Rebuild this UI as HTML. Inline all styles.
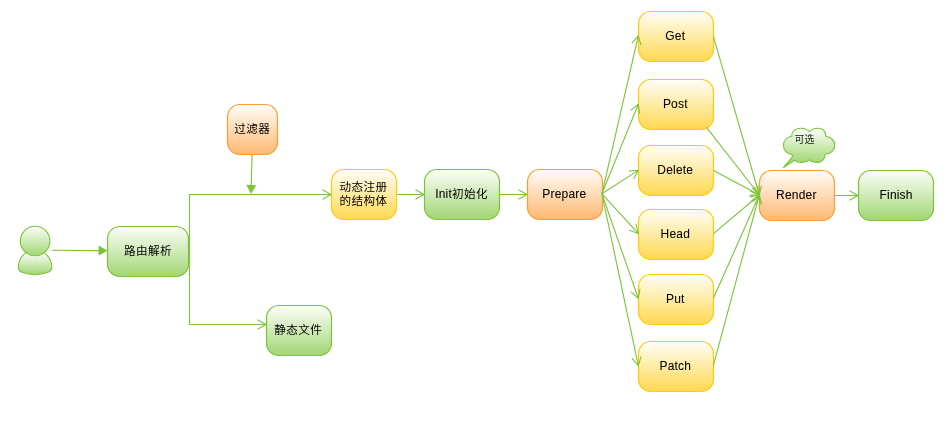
<!DOCTYPE html>
<html lang="zh">
<head>
<meta charset="utf-8">
<title>流程图</title>
<style>
html,body{margin:0;padding:0;background:#fff;}
body{width:951px;height:448px;overflow:hidden;}
svg{display:block;will-change:transform;}
text{font-family:"Liberation Sans","Noto Sans CJK SC",sans-serif;font-size:12px;fill:#000;text-anchor:middle;letter-spacing:0.2px;stroke:#000;stroke-width:0.06px;}
.c{font-size:11.6px;letter-spacing:0.4px;stroke:none;}
</style>
</head>
<body>
<svg width="951" height="448" viewBox="0 0 951 448">
<defs>
<linearGradient id="gg" x1="0" y1="0" x2="0" y2="1"><stop offset="0" stop-color="#fcfefb"/><stop offset="1" stop-color="#a1d673"/></linearGradient>
<linearGradient id="go" x1="0" y1="0" x2="0" y2="1"><stop offset="0" stop-color="#fffdfa"/><stop offset="1" stop-color="#ffb870"/></linearGradient>
<linearGradient id="gc" gradientUnits="userSpaceOnUse" x1="0" y1="128" x2="0" y2="163"><stop offset="0" stop-color="#fcfefb"/><stop offset="1" stop-color="#a1d673"/></linearGradient>
<linearGradient id="gy" x1="0" y1="0" x2="0" y2="1"><stop offset="0" stop-color="#fffef8"/><stop offset="1" stop-color="#ffd850"/></linearGradient>
</defs>

<g stroke="#7cc437" stroke-width="1.1" fill="url(#gg)">
<path d="M25.5,252.8 C21,256.5 18.4,262 18.4,267.5 C18.4,270 19.5,271.3 22,272.3 C30,275.3 40,275.3 48,272.3 C50.5,271.3 51.8,270 51.8,267.5 C51.8,262 49,256.5 44.5,252.8 Z"/>
<circle cx="35.1" cy="241" r="14.8"/>
</g>
<path stroke="#7cc437" stroke-width="1.1" fill="url(#gc)" d="M791.8,136.3 C791.5,130 797,128.2 800.5,128.2 C804.5,128.2 807.5,129.5 809.4,131.4 C811.3,129.5 814.3,128.2 818,128.2 C822.5,128.2 826,131 825.7,136.3 C831,137 834.8,140.5 834.8,145.3 C834.8,150 831,153.5 825.2,154.3 C825,159.5 821.5,162.4 817.3,162.4 C814,162.4 811.3,161.5 809.4,159.8 C807.5,161.5 805,162.4 801.7,162.4 C798.5,162.4 796,161.8 794.5,160.2 L783.2,167.8 L793,156 C792.3,155.6 791.9,155 791.6,154.3 C786.8,153.5 783.4,150 783.4,145.3 C783.4,140.5 786.8,137 791.8,136.3 Z"/>
<rect x="107.5" y="226.5" width="81" height="50" rx="12.3" ry="12.3" fill="url(#gg)" stroke="#7cc437" stroke-width="1.2"/>
<text class="c" x="148.1" y="255.3">路由解析</text>
<rect x="227.5" y="104.5" width="50" height="50" rx="12.3" ry="12.3" fill="url(#go)" stroke="#ff9e2e" stroke-width="1.2"/>
<text class="c" x="252.3" y="133.3">过滤器</text>
<rect x="331.5" y="169.5" width="65" height="50" rx="12.3" ry="12.3" fill="url(#gy)" stroke="#ffcc08" stroke-width="1.2"/>
<text class="c" x="363.5" y="191.3">动态注册</text>
<text class="c" x="363.5" y="205.3">的结构体</text>
<rect x="424.5" y="169.5" width="75" height="50" rx="12.3" ry="12.3" fill="url(#gg)" stroke="#7cc437" stroke-width="1.2"/>
<text x="461.6" y="198.3">Init<tspan class="c">初始化</tspan></text>
<rect x="527.5" y="169.5" width="75" height="50" rx="12.3" ry="12.3" fill="url(#go)" stroke="#ff9e2e" stroke-width="1.2"/>
<text x="564.3" y="198.3">Prepare</text>
<rect x="638.5" y="11.5" width="75" height="50" rx="12.3" ry="12.3" fill="url(#gy)" stroke="#ffcc08" stroke-width="1.2"/>
<text x="675.3" y="40.3">Get</text>
<rect x="638.5" y="79.5" width="75" height="50" rx="12.3" ry="12.3" fill="url(#gy)" stroke="#ffcc08" stroke-width="1.2"/>
<text x="675.3" y="108.3">Post</text>
<rect x="638.5" y="145.5" width="75" height="50" rx="12.3" ry="12.3" fill="url(#gy)" stroke="#ffcc08" stroke-width="1.2"/>
<text x="675.3" y="174.3">Delete</text>
<rect x="638.5" y="209.5" width="75" height="50" rx="12.3" ry="12.3" fill="url(#gy)" stroke="#ffcc08" stroke-width="1.2"/>
<text x="675.3" y="238.3">Head</text>
<rect x="638.5" y="274.5" width="75" height="50" rx="12.3" ry="12.3" fill="url(#gy)" stroke="#ffcc08" stroke-width="1.2"/>
<text x="675.3" y="303.3">Put</text>
<rect x="638.5" y="341.5" width="75" height="50" rx="12.3" ry="12.3" fill="url(#gy)" stroke="#ffcc08" stroke-width="1.2"/>
<text x="675.3" y="370.3">Patch</text>
<rect x="759.5" y="170.5" width="75" height="50" rx="12.3" ry="12.3" fill="url(#go)" stroke="#ff9e2e" stroke-width="1.2"/>
<text x="796.3" y="199.3">Render</text>
<rect x="858.5" y="170.5" width="75" height="50" rx="12.3" ry="12.3" fill="url(#gg)" stroke="#7cc437" stroke-width="1.2"/>
<text x="896.1" y="199.3">Finish</text>
<rect x="266.5" y="305.5" width="65" height="50" rx="12.3" ry="12.3" fill="url(#gg)" stroke="#7cc437" stroke-width="1.2"/>
<text class="c" x="298.3" y="334.3">静态文件</text>
<g stroke="#7cc437" stroke-width="1.1" fill="none" stroke-linecap="butt">
<path d="M52,250.2 L99,250.6"/>
<path d="M98.56,255.62 L107.60,250.70 L98.65,245.62 Z" fill="#7cc437" stroke="none"/>
<path d="M189.5,251 L189.5,194.5 L331,194.5"/>
<path d="M322.50,199.20 L331.00,194.50 L322.50,189.80" fill="none"/>
<path d="M189.5,251 L189.5,324.5 L266,324.5"/>
<path d="M257.50,329.20 L266.00,324.50 L257.50,319.80" fill="none"/>
<path d="M252.1,155 L251.2,186"/>
<path d="M246.30,184.84 L251.00,194.00 L256.30,185.17 Z" fill="#7cc437" stroke="none"/>
<path d="M397,194.5 L424,194.5"/>
<path d="M415.50,199.20 L424.00,194.50 L415.50,189.80" fill="none"/>
<path d="M500,194.5 L527,194.5"/>
<path d="M518.50,199.20 L527.00,194.50 L518.50,189.80" fill="none"/>
<path d="M601.9,193.8 L638.3,35.8"/>
<path d="M640.97,45.14 L638.30,35.80 L631.81,43.03" fill="none"/>
<path d="M601.9,193.8 L638.3,104.2"/>
<path d="M639.46,113.84 L638.30,104.20 L630.75,110.31" fill="none"/>
<path d="M601.9,193.8 L638.3,170.4"/>
<path d="M633.69,178.95 L638.30,170.40 L628.61,171.04" fill="none"/>
<path d="M601.9,193.8 L638.3,233.4"/>
<path d="M629.09,230.32 L638.30,233.40 L636.01,223.96" fill="none"/>
<path d="M601.9,193.8 L638.3,298.4"/>
<path d="M631.07,291.92 L638.30,298.40 L639.95,288.83" fill="none"/>
<path d="M601.9,193.8 L638.3,365.7"/>
<path d="M631.94,358.36 L638.30,365.70 L641.14,356.41" fill="none"/>
<path d="M713.3,36.2 L759.3,195"/>
<path d="M752.42,188.14 L759.30,195.00 L761.45,185.53" fill="none"/>
<path d="M706.3,127.2 L759.3,195"/>
<path d="M750.36,191.20 L759.30,195.00 L757.77,185.41" fill="none"/>
<path d="M713.7,170.4 L759.3,195"/>
<path d="M749.59,195.10 L759.30,195.00 L754.05,186.83" fill="none"/>
<path d="M713.5,233.7 L759.3,195"/>
<path d="M755.84,204.08 L759.30,195.00 L749.77,196.90" fill="none"/>
<path d="M713.3,298.5 L759.3,195"/>
<path d="M760.14,204.68 L759.30,195.00 L751.55,200.86" fill="none"/>
<path d="M713.3,365.7 L759.3,195"/>
<path d="M761.63,204.43 L759.30,195.00 L752.55,201.98" fill="none"/>
<path d="M835,195.5 L858,195.5"/>
<path d="M849.50,200.20 L858.00,195.50 L849.50,190.80" fill="none"/>
</g>
<text x="804.4" y="142.8" class="c" style="font-size:9.8px;letter-spacing:0.2px;fill:#1a1a1a">可选</text>
</svg>
</body>
</html>
